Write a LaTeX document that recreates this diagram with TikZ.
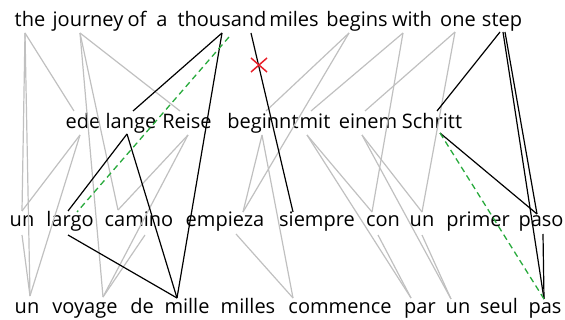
\documentclass[tikz,border=0pt]{standalone}
\usepackage{fontspec}
\setmainfont{Open Sans}
\usetikzlibrary{calc}
\definecolor{lgray}{RGB}{192,192,192}
\definecolor{dgreen}{RGB}{40,170,60}
\definecolor{xred}{RGB}{232,30,40}
\begin{document}
\begin{tikzpicture}[x=1pt,y=-1pt,
  word/.style={anchor=base,inner sep=0pt,font=\fontsize{20}{24}\selectfont},
  gl/.style={draw=lgray,line width=1.2pt},
  bl/.style={draw=black,line width=1.2pt},
  gr/.style={draw=dgreen,line width=1.3pt,dash pattern=on 6pt off 4pt},
  rx/.style={draw=xred,line width=1.5pt}]
\useasboundingbox (0,0) rectangle (565,320);
% words
\node[word] (the) at (30,27) {the};
\node[word] (journey) at (88,27) {journey};
\node[word] (of) at (137,27) {of};
\node[word] (a) at (162,27) {a};
\node[word] (thousand) at (222,27) {thousand};
\node[word] (miles) at (294,27) {miles};
\node[word] (begins) at (357,27) {begins};
\node[word] (with) at (412,27) {with};
\node[word] (one) at (458,27) {one};
\node[word] (step) at (502,27) {step};
\node[word] (ede) at (83,129) {ede};
\node[word] (lange) at (131,129) {lange};
\node[word] (Reise) at (187,129) {Reise};
\node[word] (beginnt) at (263,129) {beginnt};
\node[word] (mit) at (315,129) {mit};
\node[word] (einem) at (368,129) {einem};
\node[word] (Schritt) at (432,129) {Schritt};
\node[word] (unA) at (22,227) {un};
\node[word] (largo) at (70,227) {largo};
\node[word] (camino) at (139,227) {camino};
\node[word] (empieza) at (225,227) {empieza};
\node[word] (siempre) at (317,227) {siempre};
\node[word] (con) at (383,227) {con};
\node[word] (unB) at (422,227) {un};
\node[word] (primer) at (478,227) {primer};
\node[word] (paso) at (541,227) {paso};
\node[word] (unC) at (27,314) {un};
\node[word] (voyage) at (85,314) {voyage};
\node[word] (de) at (142,314) {de};
\node[word] (mille) at (187,314) {mille};
\node[word] (milles) at (248,314) {milles};
\node[word] (commence) at (340,314) {commence};
\node[word] (par) at (420,314) {par};
\node[word] (unD) at (458,314) {un};
\node[word] (seul) at (499,314) {seul};
\node[word] (pas) at (545,314) {pas};
% anchors: row 1 bottom
\coordinate (a-the) at (25,33);
\coordinate (a-jou) at (80,33);
\coordinate (a-tho) at (222,33);
\coordinate (g-tho) at (229,37);
\coordinate (a-mil) at (251,33);
\coordinate (a-beg) at (349,33);
\coordinate (a-wit) at (403,33);
\coordinate (a-one) at (455,32);
\coordinate (a-ste) at (500,32);
\coordinate (a-ste2) at (503,32);
\coordinate (a-ste3) at (505,32);
% row 2 top
\coordinate (b-ede) at (74,111);
\coordinate (b-lan) at (133,111);
\coordinate (b-rei) at (180,111);
\coordinate (b-beg) at (266,111);
\coordinate (b-mit) at (311,111);
\coordinate (b-ein) at (365,111);
\coordinate (b-sch) at (437,111);
% row 2 bottom
\coordinate (c-ede) at (80,135);
\coordinate (c-lan) at (127,134);
\coordinate (c-rei) at (188,135);
\coordinate (c-beg) at (262,135);
\coordinate (c-mit) at (307,135);
\coordinate (c-ein) at (362,135);
\coordinate (c-sch) at (440,133);
% row 3 top
\coordinate (d-un) at (22,211);
\coordinate (d-lar) at (68,211);
\coordinate (g-lar) at (77,212);
\coordinate (d-cam) at (118,210);
\coordinate (d-emp) at (243,212);
\coordinate (d-sie) at (293,212);
\coordinate (d-con) at (372,212);
\coordinate (d-unb) at (422,212);
\coordinate (d-pas) at (537,214);
% row 3 bottom
\coordinate (e-un) at (22,235);
\coordinate (e-lar) at (68,235);
\coordinate (e-cam) at (145,235);
\coordinate (e-emp) at (236,234);
\coordinate (e-con) at (378,235);
\coordinate (e-unb) at (422,235);
\coordinate (e-pas) at (543,234);
% row 4 top
\coordinate (f-un) at (30,296);
\coordinate (f-voy) at (103,297);
\coordinate (f-mil) at (177,298);
\coordinate (f-com) at (293,298);
\coordinate (f-par) at (411,298);
\coordinate (f-unb) at (451,299);
\coordinate (f-pas) at (544,299);
% gray alignments
\draw[gl] (a-the) -- (b-ede);
\draw[gl] (a-the) -- (d-un);
\draw[gl] (a-the) -- (f-un);
\draw[gl] (a-jou) -- (b-rei);
\draw[gl] (a-jou) -- (d-cam);
\draw[gl] (a-jou) -- (f-voy);
\draw[gl] (a-beg) -- (b-beg);
\draw[gl] (a-beg) -- (d-emp);
\draw[gl] (a-wit) -- (b-mit);
\draw[gl] (a-wit) -- (d-con);
\draw[gl] (a-one) -- (b-ein);
\draw[gl] (a-one) -- (d-unb);
\draw[gl] (c-ede) -- (d-un);
\draw[gl] (c-ede) -- (f-un);
\draw[gl] (c-rei) -- (d-cam);
\draw[gl] (c-rei) -- (f-voy);
\draw[gl] (c-beg) -- (d-emp);
\draw[gl] (c-beg) -- (f-com);
\draw[gl] (c-mit) -- (d-con);
\draw[gl] (c-mit) -- (f-par);
\draw[gl] (c-ein) -- (d-unb);
\draw[gl] (c-ein) -- (f-unb);
\draw[gl] (e-un) -- (f-un);
\draw[gl] (e-cam) -- (f-voy);
\draw[gl] (e-emp) -- (f-com);
\draw[gl] (e-con) -- (f-par);
\draw[gl] (e-unb) -- (f-unb);
% black alignments
\draw[bl] (a-tho) -- (b-lan);
\draw[bl] (a-tho) -- (f-mil);
\draw[bl] (a-mil) -- (d-sie);
\draw[bl] (a-ste) -- (b-sch);
\draw[bl] (a-ste3) -- (d-pas);
\draw[bl] (a-ste2) -- (f-pas);
\draw[bl] (c-lan) -- (d-lar);
\draw[bl] (c-lan) -- (f-mil);
\draw[bl] (e-lar) -- (f-mil);
\draw[bl] (c-sch) -- (d-pas);
\draw[bl] (e-pas) -- (f-pas);
% green dashed
\draw[gr] (g-tho) -- (g-lar);
\draw[gr] (c-sch) -- (f-pas);
% red cross
\coordinate (xc) at (259,65);
\draw[rx] ($(xc)+(-8,-7)$) -- ($(xc)+(8,7)$);
\draw[rx] ($(xc)+(-8,7)$) -- ($(xc)+(8,-7)$);
\end{tikzpicture}
\end{document}
